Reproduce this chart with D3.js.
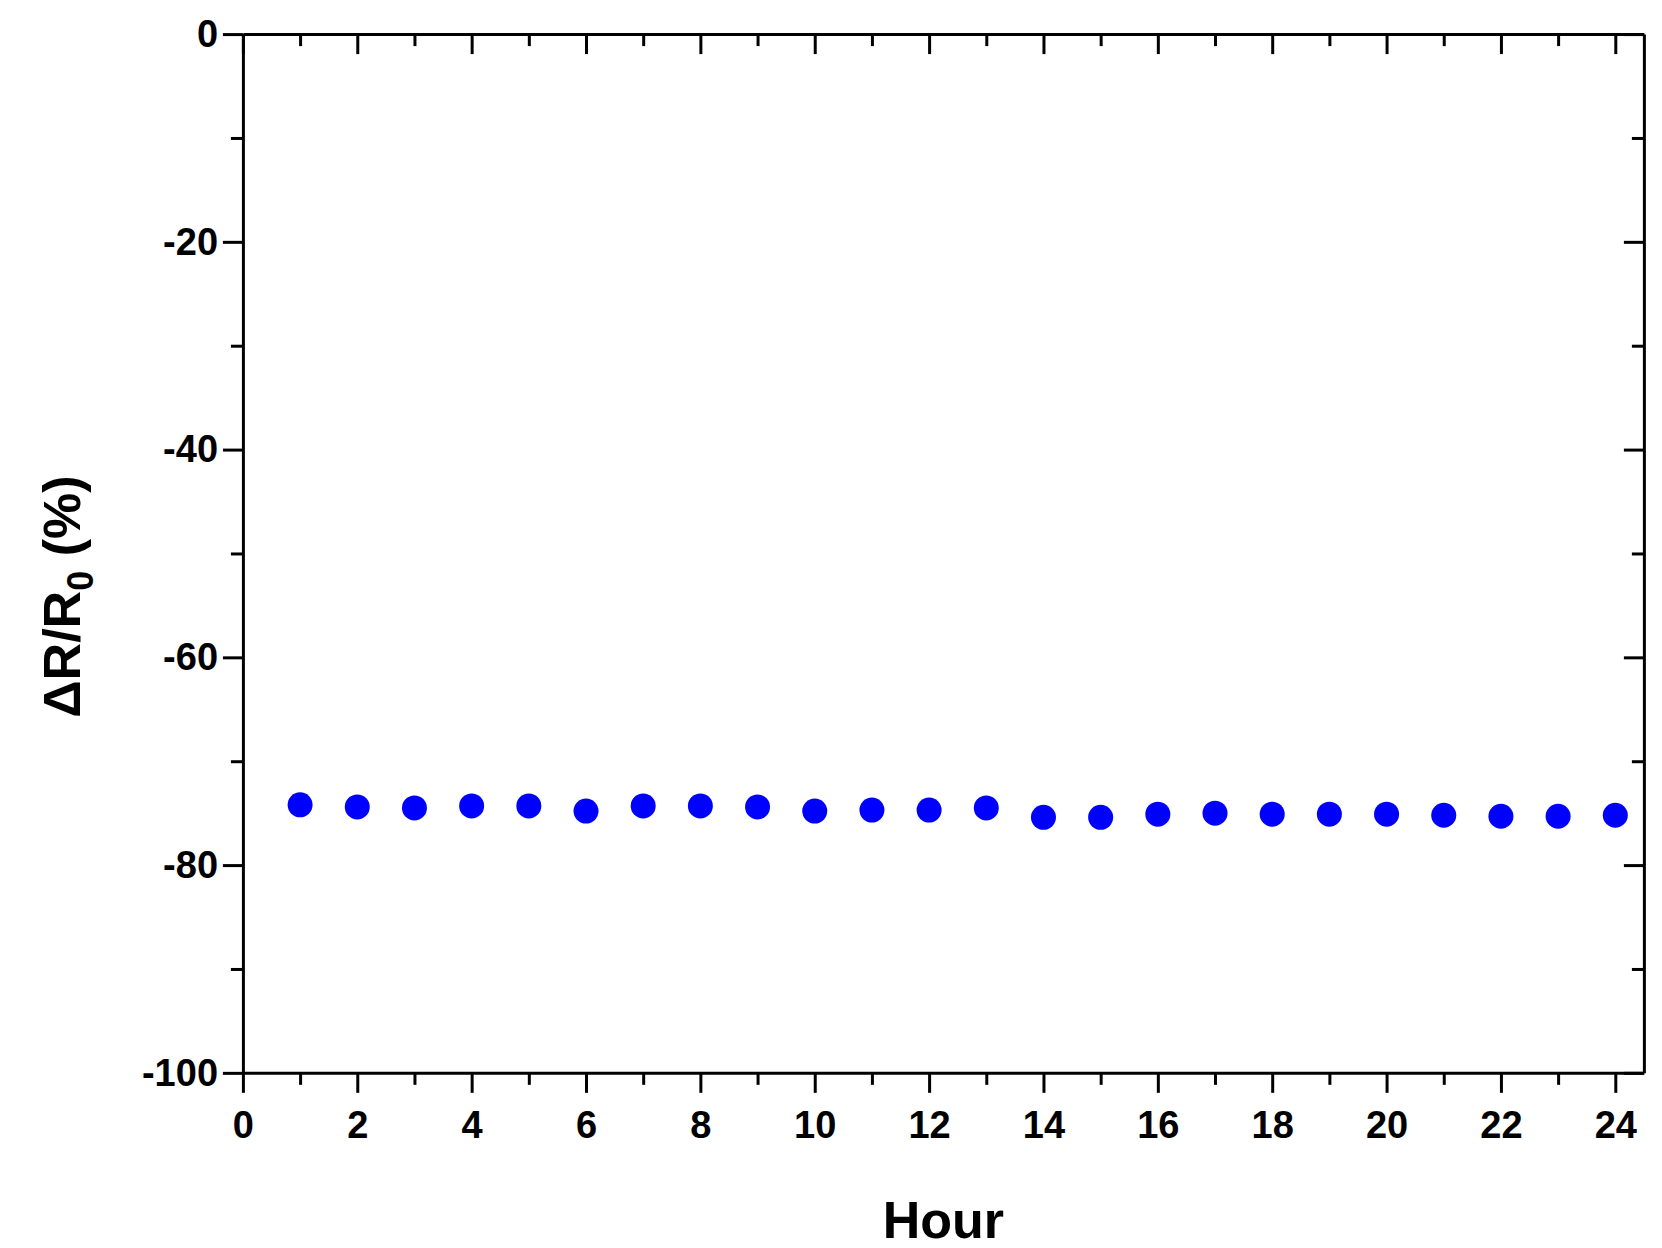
<!DOCTYPE html>
<html><head><meta charset="utf-8">
<script src="https://cdn.jsdelivr.net/npm/d3@7"></script>
<style>body{margin:0;background:#fff}svg{font-family:"Liberation Sans",Arial,sans-serif;font-weight:bold}</style>
</head><body><svg id="c" width="1662" height="1248"></svg>
<script>
const hours=[1,2,3,4,5,6,7,8,9,10,11,12,13,14,15,16,17,18,19,20,21,22,23,24];
const values=[-74.2,-74.4,-74.5,-74.3,-74.3,-74.8,-74.3,-74.3,-74.4,-74.8,-74.7,-74.7,-74.5,-75.4,-75.4,-75.1,-75.0,-75.1,-75.1,-75.1,-75.2,-75.3,-75.3,-75.2];
const xTicks=[0,2,4,6,8,10,12,14,16,18,20,22,24];
const yTicks=[0,-20,-40,-60,-80,-100];
const s=1662/1560;
const L=228*s,R=1543*s,T=32*s,B=1007*s;
const x=d3.scaleLinear().domain([0,24.5]).range([L,R]);
const y=d3.scaleLinear().domain([-100,0]).range([B,T]);
const svg=d3.select("#c");
const minorX=d3.range(1,25,2), minorY=d3.range(-90,0,20);
const bx=svg.append("g").attr("transform",`translate(0,${B})`).call(d3.axisBottom(x).tickValues(xTicks).tickSize(20).tickSizeOuter(0));
svg.append("g").attr("transform",`translate(0,${B})`).call(d3.axisBottom(x).tickValues(minorX).tickSize(12).tickFormat("")).select(".domain").remove();
svg.append("g").attr("transform",`translate(0,${T})`).call(d3.axisBottom(x).tickValues(xTicks).tickSize(20).tickFormat("").tickSizeOuter(0));
svg.append("g").attr("transform",`translate(0,${T})`).call(d3.axisBottom(x).tickValues(minorX).tickSize(12).tickFormat("")).select(".domain").remove();
const ly=svg.append("g").attr("transform",`translate(${L},0)`).call(d3.axisLeft(y).tickValues(yTicks).tickSize(20).tickSizeOuter(0).tickFormat(d=>String(d)));
svg.append("g").attr("transform",`translate(${L},0)`).call(d3.axisLeft(y).tickValues(minorY).tickSize(12).tickFormat("")).select(".domain").remove();
svg.append("g").attr("transform",`translate(${R},0)`).call(d3.axisLeft(y).tickValues(yTicks).tickSize(20).tickFormat("").tickSizeOuter(0));
svg.append("g").attr("transform",`translate(${R},0)`).call(d3.axisLeft(y).tickValues(minorY).tickSize(12).tickFormat("")).select(".domain").remove();
svg.selectAll(".domain,.tick line").attr("stroke","#000").attr("stroke-width",3);
svg.selectAll(".tick text").attr("font-size",38).attr("font-weight","bold").attr("fill","#000").attr("font-family","Liberation Sans, Arial, sans-serif");
bx.selectAll(".tick text").attr("dy","1.1em");
ly.selectAll(".tick text").attr("dx","-0.05em");
svg.append("g").selectAll("circle").data(hours).join("circle")
 .attr("cx",d=>x(d)).attr("cy",(d,i)=>y(values[i])).attr("r",12.5).attr("fill","#0000ff");
svg.append("text").attr("x",(L+R)/2).attr("y",1162*s).attr("text-anchor","middle").attr("font-size",52).text("Hour");
const yl=svg.append("text").attr("transform",`translate(${75*s},${560*s}) rotate(-90)`).attr("text-anchor","middle").attr("font-size",52);
yl.append("tspan").text("ΔR/R");
yl.append("tspan").attr("font-size",36).attr("dy",13).text("0");
yl.append("tspan").attr("dy",-13).text(" (%)");
</script></body></html>
